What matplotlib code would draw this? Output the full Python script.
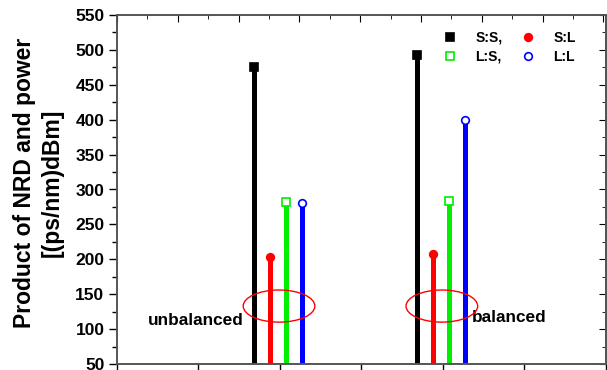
import numpy as np
import matplotlib.pyplot as plt
from matplotlib.patches import Ellipse
from matplotlib.ticker import MultipleLocator

plt.rcParams['font.family'] = ['Liberation Sans', 'DejaVu Sans']
plt.rcParams['font.weight'] = 'bold'

groups = [1.0, 2.0]
group_names = ["unbalanced", "balanced"]
series = ["S:S,", "S:L", "L:S,", "L:L"]
ss = [475, 493]
sl = [203, 207]
ls = [282, 284]
ll = [281, 399]

fig = plt.figure(figsize=(6.07, 3.70), dpi=100)
ax = fig.add_axes([117/607, 6/370, 488.5/607, 349/370])

offs = [-0.16, -0.06, 0.04, 0.135]
vals = [ss, sl, ls, ll]
cols = ['black', 'red', '#00ee00', 'blue']
marks = ['s', 'o', 's', 'o']
faces = ['black', 'red', 'white', 'white']
handles = []
for v, o, c, m, f in zip(vals, offs, cols, marks, faces):
    x = np.array(groups) + o
    ax.vlines(x, 0, v, color=c, lw=3.6, zorder=2)
    h, = ax.plot(x, v, ls='none', marker=m, ms=5.5, mfc=f, mec=c, mew=1.2, zorder=3)
    handles.append(h)

# ellipses round the groups
for g in groups:
    ax.add_patch(Ellipse((g - 0.005, 133), 0.44, 46, fill=False, ec='red', lw=1, zorder=4))

ax.text(0.19, 113, group_names[0], fontsize=12.4, fontweight='bold', va='center')
ax.text(2.18, 116, group_names[1], fontsize=12.4, fontweight='bold', va='center')

leg = ax.legend([handles[0], handles[2], handles[1], handles[3]],
                [series[0], series[2], series[1], series[3]],
                ncol=2, frameon=False, loc='upper left', bbox_to_anchor=(0.667, 0.955),
                fontsize=10, handlelength=1.0, columnspacing=1.3, handletextpad=1.35,
                labelspacing=0.37, borderpad=0, borderaxespad=0)
for t in leg.get_texts():
    t.set_fontweight('bold')

ax.set_xlim(0, 3)
ax.set_ylim(50, 550)
ax.xaxis.set_major_locator(MultipleLocator(0.5))
ax.yaxis.set_major_locator(MultipleLocator(50))
ax.yaxis.set_minor_locator(MultipleLocator(25))
ax.tick_params(axis='x', direction='out', length=4, width=1, labelbottom=False)
ax.tick_params(axis='y', which='major', direction='out', length=6, width=1, labelsize=12.5, pad=3)
ax.tick_params(axis='y', which='minor', direction='out', length=3.6, width=1)
for lb in ax.get_yticklabels():
    lb.set_fontweight('bold')

# mirror ticks on the right
ay = ax.secondary_yaxis('right')
ay.yaxis.set_major_locator(MultipleLocator(50))
ay.yaxis.set_minor_locator(MultipleLocator(25))
ay.tick_params(axis='y', which='major', direction='in', length=5, labelright=False)
ay.tick_params(axis='y', which='minor', direction='in', length=3)

# top ticks
tx = ax.twiny()
tx.set_xlim(0, 488.5/60.8)
tx.xaxis.set_major_locator(MultipleLocator(1))
tx.xaxis.set_minor_locator(MultipleLocator(0.5))
tx.tick_params(axis='x', which='major', direction='in', length=5, labeltop=False)
tx.tick_params(axis='x', which='minor', direction='in', length=3)

for a in [ax, tx]:
    for s in a.spines.values():
        s.set_color('#555555')
        s.set_linewidth(1.2)
ay.spines['right'].set_color('#555555')
ay.spines['right'].set_linewidth(1.2)

ax.set_ylabel("Product of NRD and power\n[(ps/nm)dBm]", fontsize=16.5, fontweight='bold',
              linespacing=1.25)
ax.yaxis.set_label_coords(-0.11, 0.519)

fig.savefig('out.png', dpi=100)
